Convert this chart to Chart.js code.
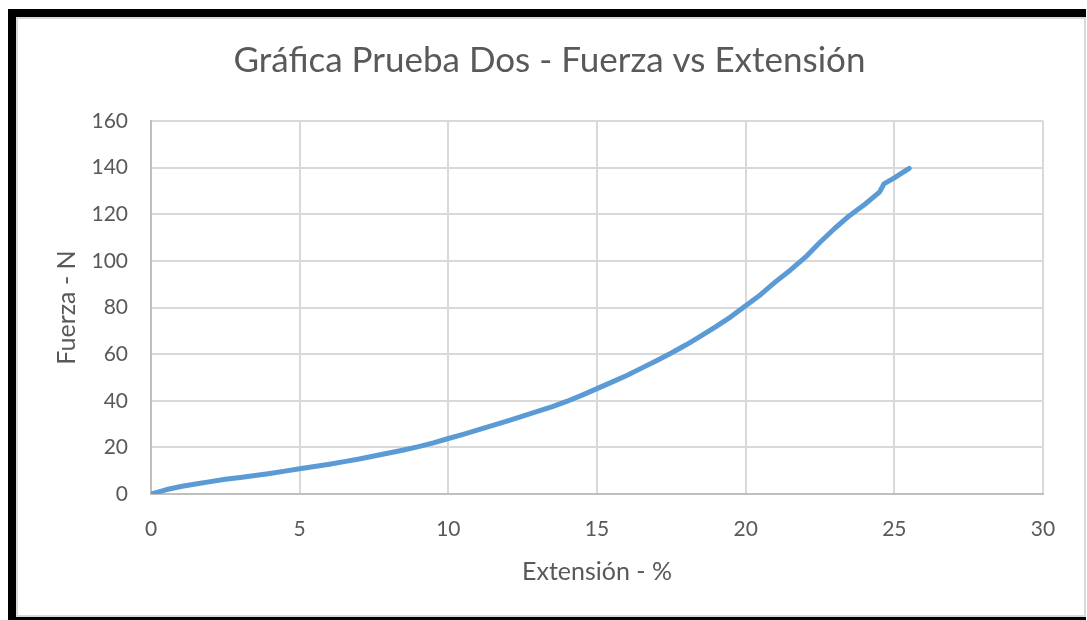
<!DOCTYPE html>
<html>
<head>
<meta charset="utf-8">
<title>Gráfica Prueba Dos - Fuerza vs Extensión</title>
<script src="https://cdn.jsdelivr.net/npm/chart.js@4/dist/chart.umd.min.js"></script>
<style>
  html, body { margin: 0; padding: 0; background: #fff; }
  #frame { position: absolute; left: 8px; top: 9px; width: 1078px; height: 611px; background: #000; }
  #panel { position: absolute; left: 16px; top: 17px; width: 1070px; height: 600px; box-sizing: border-box;
           background: #fff; border: 2px solid #d9d9d9; }
  #chart { position: absolute; left: 0; top: 0; }
</style>
</head>
<body>
<div id="frame"></div>
<div id="panel"></div>
<canvas id="chart" width="1087" height="620"></canvas>
<script>
// Extensión (%) readings of the second test
const extension = [0, 0.5, 1.0, 1.5, 2.0, 2.5, 3.0, 3.5, 4.0, 4.5, 5.0, 5.5, 6.0, 6.5, 7.0, 7.5, 8.0, 8.5, 9.0, 9.5,
  10.0, 10.5, 11.0, 11.5, 12.0, 12.5, 13.0, 13.5, 14.0, 14.5, 15.0, 15.5, 16.0, 16.5, 17.0, 17.5, 18.0, 18.5, 19.0, 19.5,
  20.0, 20.5, 21.0, 21.5, 22.0, 22.5, 23.0, 23.5, 24.0, 24.5, 24.65, 25.0, 25.5];
// Fuerza (N) measured at each extension
const force = [0, 1.8, 3.2, 4.3, 5.3, 6.3, 7.1, 7.9, 8.8, 9.8, 10.8, 11.8, 12.8, 13.9, 15.0, 16.3, 17.6, 18.9, 20.3, 21.9,
  23.8, 25.6, 27.5, 29.4, 31.4, 33.4, 35.4, 37.5, 39.8, 42.4, 45.2, 48.0, 50.8, 54.0, 57.2, 60.5, 64.0, 67.8, 71.8, 76.0,
  80.8, 85.5, 91.0, 96.0, 101.5, 108.0, 114.0, 119.5, 124.2, 129.5, 133.0, 135.6, 139.7];

const xTicks = [0, 5, 10, 15, 20, 25, 30];
const yTicks = [0, 20, 40, 60, 80, 100, 120, 140, 160];

const points = extension.map((x, i) => ({ x: x, y: force[i] }));
const textColor = '#595959';
const family = 'Lato, "Open Sans", sans-serif';

new Chart(document.getElementById('chart'), {
  type: 'scatter',
  data: {
    datasets: [{
      label: 'Fuerza',
      data: points,
      showLine: true,
      borderColor: '#5b9bd5',
      backgroundColor: '#5b9bd5',
      borderWidth: 5,
      borderCapStyle: 'round',
      borderJoinStyle: 'round',
      pointRadius: 0,
      tension: 0
    }]
  },
  options: {
    responsive: false,
    animation: false,
    layout: { padding: { top: 0, left: 12, right: 0, bottom: 0 } },
    plugins: {
      legend: { display: false },
      tooltip: { enabled: false },
      title: {
        display: true,
        text: 'Gráfica Prueba Dos - Fuerza vs Extensión',
        color: textColor,
        font: { family: family, size: 35, weight: 'normal', lineHeight: 1.2 },
        padding: { top: 40, bottom: 39 }
      }
    },
    scales: {
      x: {
        type: 'linear',
        min: xTicks[0],
        max: xTicks[xTicks.length - 1],
        afterBuildTicks: s => { s.ticks = xTicks.map(v => ({ value: v })); },
        afterFit: s => { s.height = 126; },
        grid: { color: '#d9d9d9', lineWidth: 2, drawTicks: false },
        border: { display: true, color: '#bfbfbf', width: 2 },
        ticks: { color: textColor, font: { family: family, size: 21 }, padding: 23, maxRotation: 0 },
        title: {
          display: true,
          text: 'Extensión - %',
          color: textColor,
          font: { family: family, size: 25, lineHeight: 1.2 },
          padding: { top: 0, bottom: 33 }
        }
      },
      y: {
        type: 'linear',
        min: yTicks[0],
        max: yTicks[yTicks.length - 1],
        afterBuildTicks: s => { s.ticks = yTicks.map(v => ({ value: v })); },
        afterFit: s => { s.width = 139; },
        grid: { color: '#d9d9d9', lineWidth: 2, drawTicks: false },
        border: { display: true, color: '#bfbfbf', width: 2 },
        ticks: { color: textColor, font: { family: family, size: 21 }, padding: 23 },
        title: {
          display: true,
          text: 'Fuerza - N',
          color: textColor,
          font: { family: family, size: 25, lineHeight: 1.2 },
          padding: { top: 40, bottom: 0 }
        }
      },
      // empty margin on the right of the plot area
      gap: {
        position: 'right',
        display: true,
        afterFit: s => { s.width = 44; },
        grid: { display: false, drawTicks: false },
        border: { display: false },
        ticks: { display: false }
      }
    }
  }
});
</script>
</body>
</html>
